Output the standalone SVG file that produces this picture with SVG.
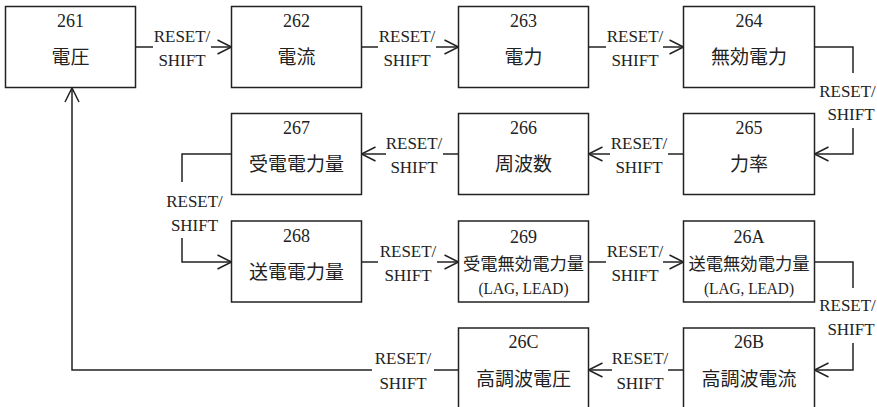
<svg xmlns="http://www.w3.org/2000/svg" width="877" height="407" viewBox="0 0 877 407">
<style>
.box{fill:#fff;stroke:#222;stroke-width:1.5}
.num{font-family:"Liberation Serif",serif;font-size:18px;text-anchor:middle;fill:#222}
.jp{font-family:"Noto Sans CJK JP",sans-serif;font-size:19px;text-anchor:middle;fill:#222}
.jps{font-family:"Noto Sans CJK JP",sans-serif;font-size:17.3px;text-anchor:middle;fill:#222}
.sub{font-family:"Liberation Serif",serif;font-size:17px;text-anchor:middle;fill:#222}
.lbl{font-family:"Liberation Serif",serif;font-size:17px;text-anchor:middle;fill:#222}
.ln{fill:none;stroke:#222;stroke-width:1.5}
.arr{marker-end:url(#ah)}
</style>
<defs>
<marker id="ah" markerUnits="userSpaceOnUse" markerWidth="16" markerHeight="16" refX="14" refY="7" orient="auto" overflow="visible">
<path d="M0,0 L14,7 L0,14" fill="none" stroke="#222" stroke-width="1.5"/>
</marker>
</defs>
<rect width="877" height="407" fill="#fff"/>

<g id="connectors">
<path class="ln" d="M135.5 47 H153"/><path class="ln arr" d="M211 47 H231.5"/>
<text class="lbl" x="182" y="42">RESET/</text><text class="lbl" x="182" y="66">SHIFT</text>

<path class="ln" d="M361.5 47 H378"/><path class="ln arr" d="M436 47 H458.5"/>
<text class="lbl" x="407" y="42">RESET/</text><text class="lbl" x="407" y="66">SHIFT</text>

<path class="ln" d="M588.5 47 H606"/><path class="ln arr" d="M663 47 H683.5"/>
<text class="lbl" x="635" y="42">RESET/</text><text class="lbl" x="635" y="66">SHIFT</text>

<path class="ln" d="M814.5 47 H853 V73"/><path class="ln arr" d="M853 128 V154 H814.5"/>
<text class="lbl" x="847.5" y="97">RESET/</text><text class="lbl" x="851" y="120">SHIFT</text>

<path class="ln" d="M683.5 154 H668"/><path class="ln arr" d="M610 154 H588.5"/>
<text class="lbl" x="639" y="149">RESET/</text><text class="lbl" x="639" y="173">SHIFT</text>

<path class="ln" d="M458.5 154 H443"/><path class="ln arr" d="M386 154 H361.5"/>
<text class="lbl" x="414" y="149">RESET/</text><text class="lbl" x="414" y="173">SHIFT</text>

<path class="ln" d="M231.5 154 H182 V182"/><path class="ln arr" d="M182 238 V262 H231.5"/>
<text class="lbl" x="194.5" y="207">RESET/</text><text class="lbl" x="194.5" y="231">SHIFT</text>

<path class="ln" d="M361.5 262 H378"/><path class="ln arr" d="M437 262 H458.5"/>
<text class="lbl" x="408" y="257">RESET/</text><text class="lbl" x="408" y="281">SHIFT</text>

<path class="ln" d="M588.5 262 H606"/><path class="ln arr" d="M663 262 H683.5"/>
<text class="lbl" x="635" y="257">RESET/</text><text class="lbl" x="635" y="281">SHIFT</text>

<path class="ln" d="M814.5 262 H853 V288"/><path class="ln arr" d="M853 343 V370 H814.5"/>
<text class="lbl" x="847.5" y="311">RESET/</text><text class="lbl" x="851" y="335">SHIFT</text>

<path class="ln" d="M683.5 370 H668"/><path class="ln arr" d="M612 370 H588.5"/>
<text class="lbl" x="640" y="364">RESET/</text><text class="lbl" x="640" y="389">SHIFT</text>

<path class="ln" d="M458.5 370 H434"/><path class="ln arr" d="M372 370 H72 V88"/>
<text class="lbl" x="403" y="364">RESET/</text><text class="lbl" x="403" y="389">SHIFT</text>
</g>

<g id="n261"><rect class="box" x="5.5" y="6.5" width="130" height="81"/><text class="num" x="70.5" y="27">261</text><text class="jp" x="70.5" y="64">電圧</text></g>
<g id="n262"><rect class="box" x="231.5" y="6.5" width="130" height="81"/><text class="num" x="296.5" y="27">262</text><text class="jp" x="296.5" y="64">電流</text></g>
<g id="n263"><rect class="box" x="458.5" y="6.5" width="130" height="81"/><text class="num" x="523.5" y="27">263</text><text class="jp" x="523.5" y="64">電力</text></g>
<g id="n264"><rect class="box" x="683.5" y="6.5" width="131" height="81"/><text class="num" x="749" y="27">264</text><text class="jp" x="749" y="64">無効電力</text></g>

<g id="n265"><rect class="box" x="683.5" y="113.5" width="131" height="81"/><text class="num" x="749" y="134">265</text><text class="jp" x="749" y="171">力率</text></g>
<g id="n266"><rect class="box" x="458.5" y="113.5" width="130" height="81"/><text class="num" x="523.5" y="134">266</text><text class="jp" x="523.5" y="171">周波数</text></g>
<g id="n267"><rect class="box" x="231.5" y="113.5" width="130" height="81"/><text class="num" x="296.5" y="134">267</text><text class="jp" x="296.5" y="171">受電電力量</text></g>

<g id="n268"><rect class="box" x="231.5" y="221" width="130" height="81"/><text class="num" x="296.5" y="242">268</text><text class="jp" x="296.5" y="279">送電電力量</text></g>
<g id="n269"><rect class="box" x="458.5" y="221" width="130" height="81"/><text class="num" x="523.5" y="243">269</text><text class="jps" x="523.5" y="270">受電無効電力量</text><text class="sub" x="523.5" y="294" textLength="90" lengthAdjust="spacingAndGlyphs">(LAG, LEAD)</text></g>
<g id="n26A"><rect class="box" x="683.5" y="221" width="131" height="81"/><text class="num" x="749" y="243">26A</text><text class="jps" x="749" y="270">送電無効電力量</text><text class="sub" x="749" y="294" textLength="90" lengthAdjust="spacingAndGlyphs">(LAG, LEAD)</text></g>

<g id="n26B"><rect class="box" x="683.5" y="328" width="131" height="81"/><text class="num" x="749" y="348">26B</text><text class="jp" x="749" y="386">高調波電流</text></g>
<g id="n26C"><rect class="box" x="458.5" y="328" width="130" height="81"/><text class="num" x="523.5" y="348">26C</text><text class="jp" x="523.5" y="386">高調波電圧</text></g>
</svg>
